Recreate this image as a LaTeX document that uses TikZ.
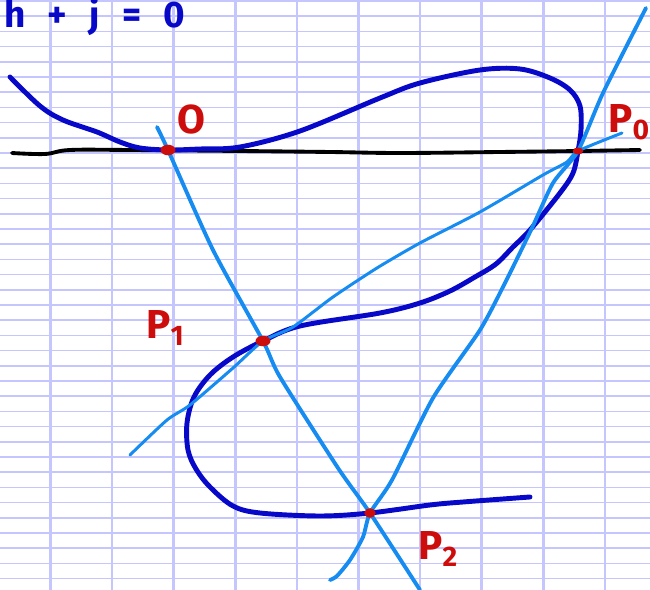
\documentclass[tikz,border=0pt]{standalone}
\usepackage{fontspec}
\setmainfont{Fira Sans}
\usetikzlibrary{shapes.geometric}
\definecolor{gridC}{RGB}{198,198,255}
\definecolor{curveC}{RGB}{8,8,200}
\definecolor{lineC}{RGB}{22,140,240}
\definecolor{ptC}{RGB}{205,12,12}
\tikzset{
  gridh/.style  = {gridC, line width=1.0pt},
  gridv/.style  = {gridC, line width=1.4pt},
  axisl/.style  = {black, line width=2.2pt, line cap=round},
  curve/.style  = {curveC, line width=2.8pt, line cap=round, line join=round},
  tline/.style  = {lineC, line width=2.2pt, line cap=round, line join=round},
  dot/.style    = {ellipse, fill=ptC, inner sep=0pt,
                   minimum width=8.5pt, minimum height=6pt},
  lbl/.style    = {ptC, inner sep=0pt, anchor=base west,
                   font=\fontsize{23}{26}\selectfont\bfseries},
  note/.style   = {curveC, inner sep=0pt, anchor=base west,
                   font=\fontsize{21}{24}\selectfont\bfseries}
}

\begin{document}
\begin{tikzpicture}[x=0.02cm, y=-0.02cm]
  \useasboundingbox (0,0) rectangle (650,590);

  %% -- paper grid --------------------------------------------------
  \foreach \k in {0,...,38}
    \draw[gridh] (0,{1+15.2*\k}) -- (650,{1+15.2*\k});
  \foreach \k in {0,...,9}
    \draw[gridv] ({50.5+61.6*\k},0) -- ({50.5+61.6*\k},590);

  %% -- points ------------------------------------------------------
  \coordinate (O)  at (168,150);
  \coordinate (P0) at (578,151);
  \coordinate (P1) at (263,341);
  \coordinate (P2) at (370,513);

  %% -- horizontal line ---------------------------------------------
  \draw[axisl] plot[smooth, tension=0.6] coordinates {
    (12,153) (45,154) (70,150) (130,150) (240,151) (330,152)
    (400,153) (500,152) (580,151) (640,150)};

  %% -- the curve ---------------------------------------------------
  \draw[curve] plot[smooth, tension=0.55] coordinates {
    (10,77) (40,106) (63,120) (97,132) (120,142) (140,148) (O)
    (200,149) (240,147) (300,131) (380,98) (420,83) (480,70) (520,69)
    (550,78) (570,90) (580,106) (581,130) (P0) (573,173) (560,193)
    (530,230) (513,247) (496,264) (475,277) (450,291) (420,303)
    (380,313) (300,326) (P1) (233,357) (210,375) (194,397) (187,423)
    (188,450) (196,469) (210,487) (233,506) (260,513) (320,516)
    (P2) (430,505) (463,502) (530,497)};

  %% -- light lines -------------------------------------------------
  % through O, P1, P2
  \draw[tline] plot[smooth, tension=0.4] coordinates {
    (157,127) (O) (213,250) (P1) (280,377) (338,468) (P2) (420,590)};
  % through P1 and P0
  \draw[tline, line width=1.7pt] plot[smooth, tension=0.4] coordinates {
    (130,455) (167,420) (190,405) (233,368) (P1) (293,327) (333,297)
    (377,268) (420,243) (480,212) (543,175) (567,162) (P0) (622,133)};
  % through P2 and P0
  \draw[tline] plot[smooth, tension=0.4] coordinates {
    (330,580) (337,576) (350,560) (363,537) (P2) (392,480) (433,398)
    (480,330) (505,283) (532,228) (553,183) (P0) (603,93) (646,8)};

  %% -- dots --------------------------------------------------------
  \node[dot] (dO)  at (O)  {};
  \node[dot] (dP1) at (P1) {};
  \node[dot, minimum width=6.5pt, minimum height=5.5pt] (dP2) at (P2) {};
  \node[dot, minimum width=6pt, minimum height=4pt] (dP0) at (P0) {};

  %% -- labels ------------------------------------------------------
  \node[lbl] (lO)  at (177,134) {O};
  \node[lbl] (lP1) at (146,339) {P\textsubscript{1}};
  \node[lbl] (lP0) at (608,133) {P\textsubscript{0}};
  \node[lbl] (lP2) at (418,560) {P\textsubscript{2}};

  %% -- equation ----------------------------------------------------
  \node[note] (eq) at (4,28)
    {h\hspace{0.6em}+\hspace{0.6em}j\hspace{0.6em}=\hspace{0.6em}0};

\end{tikzpicture}
\end{document}
